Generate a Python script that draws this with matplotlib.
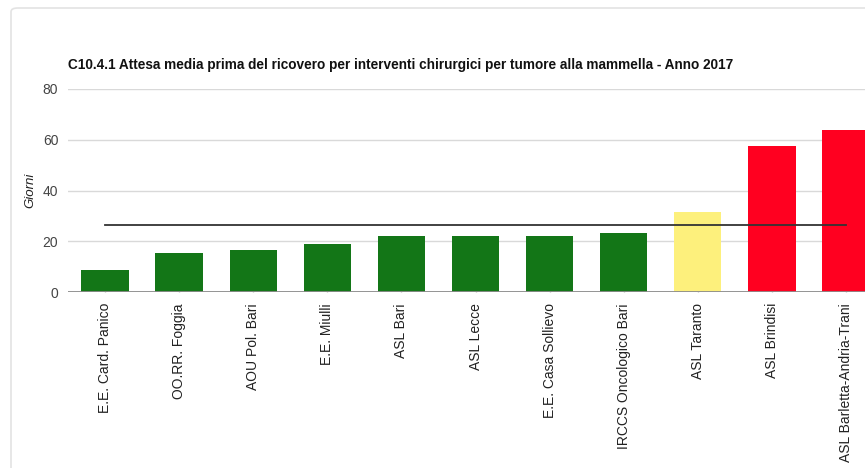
import matplotlib.pyplot as plt
from matplotlib.patches import FancyBboxPatch

plt.rcParams['font.family'] = ['Liberation Sans', 'DejaVu Sans']

# data
aziende = ["E.E. Card. Panico", "OO.RR. Foggia", "AOU Pol. Bari", "E.E. Miulli",
           "ASL Bari", "ASL Lecce", "E.E. Casa Sollievo", "IRCCS Oncologico Bari",
           "ASL Taranto", "ASL Brindisi", "ASL Barletta-Andria-Trani"]
giorni = [8.7, 15.5, 16.4, 19.0, 22.0, 22.0, 22.0, 23.4, 31.6, 57.4, 64.0]
colori = ["#137617"] * 8 + ["#fdf07c", "#ff0020", "#ff0020"]
media_regionale = 26.5

fig = plt.figure(figsize=(8.65, 4.68), dpi=100)

# light rounded frame of the original widget
frame = FancyBboxPatch((11 / 865, -0.05), 1.1, (468 - 8) / 468 + 0.05,
                       boxstyle="round,pad=0,rounding_size=0.008",
                       transform=fig.transFigure, facecolor="none",
                       edgecolor="#e3e3e3", linewidth=1.2, zorder=-1)
fig.patches.append(frame)

W, H = 865, 468
ax = fig.add_axes([68 / W, (H - 292) / H, (883 - 68) / W, (292 - 89) / H])
ax.set_facecolor("none")

x = range(len(aziende))
ax.bar(x, giorni, width=0.64, color=colori, zorder=2)
ax.plot([0, len(aziende) - 1], [media_regionale] * 2, color="#333333", lw=1.3, zorder=3)

ax.set_xlim(-0.5, len(aziende) - 0.5)
ax.set_ylim(0, 80)
ax.set_yticks([0, 20, 40, 60, 80])
ax.grid(axis="y", color="#d9d9d9", lw=1, zorder=0)
ax.axhline(0, color="#8c8c8c", lw=1.3, zorder=4)
for s in ax.spines.values():
    s.set_visible(False)

ax.set_xticks(list(x))
ax.set_xticklabels(aziende, rotation=90, va="top", ha="center", fontsize=10, color="#222222")
ax.tick_params(axis="x", direction="in", length=4, color="#bbbbbb", pad=8, width=1)
ax.tick_params(axis="y", length=0, pad=7, labelsize=10, labelcolor="#444444")

fig.text(30 / W, 1 - 190 / H, "Giorni", rotation=90, style="italic", fontsize=9.5,
         color="#222222", ha="center", va="center")
fig.text(68 / W, 1 - 65 / H,
         "C10.4.1 Attesa media prima del ricovero per interventi chirurgici per tumore alla mammella - Anno 2017",
         fontsize=9.8, fontweight="bold", color="#111111", ha="left", va="center")

fig.savefig("out.png", dpi=100)
